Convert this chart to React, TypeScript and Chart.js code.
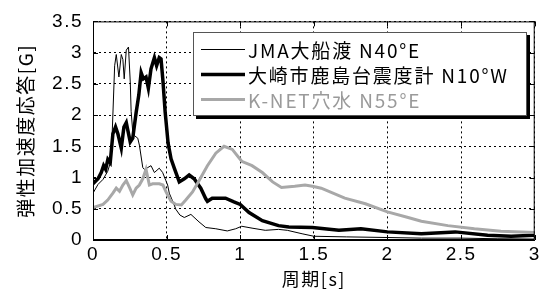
import React, { useEffect, useRef } from "react";
import { Chart, registerables } from "chart.js";

Chart.register(...registerables);

// ---- data ----
const jmaT = [0, 0.034, 0.068, 0.1, 0.124, 0.147, 0.158, 0.176, 0.192, 0.203, 0.212, 0.226, 0.241, 0.253, 0.259, 0.27, 0.282, 0.304, 0.315, 0.338, 0.349, 0.372, 0.394, 0.417, 0.45, 0.473, 0.495, 0.507, 0.518, 0.545, 0.563, 0.59, 0.62, 0.665, 0.72, 0.766, 0.834, 0.912, 0.969, 1.01, 1.08, 1.17, 1.26, 1.32, 1.42, 1.5, 1.72, 2.0, 2.23, 2.5, 2.75, 3.0];
const jmaV = [0.75, 0.89, 0.97, 1.1, 1.29, 2.79, 2.97, 2.61, 2.97, 2.89, 2.58, 3.04, 3.09, 2.53, 2.06, 1.73, 1.67, 1.63, 1.52, 1.16, 1.13, 1.16, 1.19, 1.08, 1.15, 1.08, 0.95, 0.88, 0.75, 0.6, 0.49, 0.4, 0.36, 0.41, 0.29, 0.2, 0.18, 0.145, 0.18, 0.22, 0.19, 0.155, 0.17, 0.155, 0.1, 0.06, 0.05, 0.04, 0.03, 0.03, 0.02, 0.015];

const osakiT = [0, 0.034, 0.056, 0.072, 0.086, 0.101, 0.117, 0.135, 0.153, 0.169, 0.192, 0.21, 0.226, 0.237, 0.253, 0.27, 0.293, 0.311, 0.327, 0.342, 0.36, 0.376, 0.394, 0.417, 0.432, 0.45, 0.462, 0.475, 0.49, 0.51, 0.53, 0.552, 0.586, 0.62, 0.653, 0.687, 0.732, 0.766, 0.777, 0.81, 0.9, 0.957, 1.0, 1.06, 1.15, 1.26, 1.33, 1.49, 1.67, 1.82, 2.0, 2.23, 2.46, 2.68, 2.84, 3.0];
const osakiV = [0.9, 0.98, 1.08, 1.19, 1.13, 1.29, 1.24, 1.7, 1.81, 1.7, 1.47, 1.81, 1.88, 1.75, 1.57, 1.63, 2.04, 2.32, 2.68, 2.58, 2.61, 2.43, 2.74, 2.92, 2.79, 2.92, 2.9, 2.55, 2.05, 1.55, 1.3, 1.15, 0.93, 0.98, 1.04, 0.98, 0.83, 0.66, 0.62, 0.67, 0.67, 0.61, 0.57, 0.44, 0.31, 0.23, 0.21, 0.2, 0.155, 0.18, 0.13, 0.1, 0.13, 0.077, 0.06, 0.077];

const knetT = [0, 0.068, 0.1, 0.135, 0.158, 0.18, 0.203, 0.226, 0.25, 0.27, 0.293, 0.315, 0.338, 0.36, 0.383, 0.405, 0.45, 0.475, 0.496, 0.53, 0.563, 0.6, 0.63, 0.676, 0.72, 0.777, 0.834, 0.89, 0.946, 1.01, 1.08, 1.15, 1.22, 1.28, 1.37, 1.44, 1.49, 1.55, 1.71, 1.85, 2.0, 2.14, 2.23, 2.41, 2.59, 2.77, 3.0];
const knetV = [0.52, 0.57, 0.64, 0.75, 0.83, 0.78, 0.88, 0.95, 0.83, 0.72, 0.83, 0.88, 0.98, 1.13, 0.88, 0.9, 0.9, 0.88, 0.77, 0.62, 0.57, 0.56, 0.64, 0.77, 0.95, 1.19, 1.39, 1.5, 1.45, 1.26, 1.19, 1.08, 0.93, 0.84, 0.86, 0.88, 0.86, 0.83, 0.67, 0.58, 0.45, 0.36, 0.3, 0.23, 0.18, 0.14, 0.12];

const seriesLabels = ["JMA大船渡 N40°E", "大崎市鹿島台震度計 N10°W", "K-NET穴水 N55°E"];
const seriesColors = ["#000000", "#000000", "#a8a8a8"];
const seriesWidths = [1, 3.5, 3];
const legendTextColors = ["#000000", "#000000", "#9a9a9a"];

const xTitle = "周期[s]";
const yTitle = "弾性加速度応答[G]";

const pts = (t: number[], v: number[]) => t.map((x, i) => ({ x, y: v[i] }));

const FONT = "'Liberation Sans', 'Noto Sans CJK JP', sans-serif";
const JFONT = "'Noto Sans CJK JP', 'Liberation Sans', sans-serif";

const framePlugin = {
  id: "frame",
  beforeDraw(chart: any) {
    chart.ctx.letterSpacing = "1.5px";
  },
  afterDraw(chart: any) {
    const ctx = chart.ctx as CanvasRenderingContext2D;
    ctx.save();
    (ctx as any).letterSpacing = "0px";
    const { left, right, top, bottom } = chart.chartArea;
    ctx.setLineDash([]);
    ctx.strokeStyle = "#000";
    ctx.lineWidth = 1;
    ctx.strokeRect(left + 0.5, top + 0.5, right - left - 1, bottom - top - 1);
    // inward ticks
    const tl = 5;
    ctx.beginPath();
    chart.scales.x.ticks.forEach((t: any) => {
      const px = Math.round(chart.scales.x.getPixelForValue(t.value)) + 0.5;
      ctx.moveTo(px, bottom);
      ctx.lineTo(px, bottom - tl);
      ctx.moveTo(px, top);
      ctx.lineTo(px, top + tl);
    });
    chart.scales.y.ticks.forEach((t: any) => {
      const py = Math.round(chart.scales.y.getPixelForValue(t.value)) + 0.5;
      ctx.moveTo(left, py);
      ctx.lineTo(left + tl, py);
      ctx.moveTo(right, py);
      ctx.lineTo(right - tl, py);
    });
    ctx.stroke();

    // legend
    const bx = 193, by = 32, bw = 334, bh = 84;
    ctx.fillStyle = "#000";
    ctx.fillRect(bx + 3, by + 3, bw, bh);
    ctx.fillStyle = "#fff";
    ctx.fillRect(bx, by, bw, bh);
    ctx.strokeStyle = "#555";
    ctx.lineWidth = 1;
    ctx.strokeRect(bx + 0.5, by + 0.5, bw - 1, bh - 1);
    const rows = [49.5, 74.5, 99.5];
    ctx.font = `19px ${JFONT}`;
    (ctx as any).letterSpacing = "1.8px";
    ctx.textBaseline = "middle";
    ctx.textAlign = "left";
    seriesLabels.forEach((lab, i) => {
      ctx.strokeStyle = seriesColors[i];
      ctx.lineWidth = seriesWidths[i];
      ctx.beginPath();
      ctx.moveTo(201, rows[i]);
      ctx.lineTo(245, rows[i]);
      ctx.stroke();
      ctx.fillStyle = legendTextColors[i];
      ctx.fillText(lab, 248, rows[i] + 1);
    });
    (ctx as any).letterSpacing = "0px";
    ctx.restore();
  },
};

export default function App() {
  const ref = useRef<HTMLCanvasElement>(null);
  useEffect(() => {
    if (!ref.current) return;
    const chart = new Chart(ref.current, {
      type: "line",
      data: {
        datasets: [
          { label: seriesLabels[0], data: pts(jmaT, jmaV), borderColor: seriesColors[0], borderWidth: seriesWidths[0] },
          { label: seriesLabels[1], data: pts(osakiT, osakiV), borderColor: seriesColors[1], borderWidth: seriesWidths[1] },
          { label: seriesLabels[2], data: pts(knetT, knetV), borderColor: seriesColors[2], borderWidth: seriesWidths[2] },
        ].reverse().map((d) => ({ ...d, pointRadius: 0, tension: 0, fill: false })),
      },
      options: {
        responsive: false,
        animation: false,
        events: [],
        layout: { padding: { left: 0, top: 14, right: 6, bottom: 0 } },
        plugins: { legend: { display: false }, tooltip: { enabled: false } },
        scales: {
          x: {
            type: "linear",
            min: 0,
            max: 3,
            afterFit: (s: any) => { s.height = 50; },
            ticks: { stepSize: 0.5, color: "#000", font: { family: FONT, size: 19 }, padding: 3, maxRotation: 0, callback: (v: any) => String(v) },
            grid: { color: "#000", lineWidth: 1, drawTicks: false, borderDash: [2, 3] },
            border: { display: true, color: "#000", dash: [2, 3] },
            title: { display: true, text: xTitle, color: "#000", font: { family: JFONT, size: 18, lineHeight: 1.2 }, padding: { top: 0, bottom: 0 } },
          },
          y: {
            min: 0,
            max: 3.5,
            afterFit: (s: any) => { s.width = 93; },
            ticks: { stepSize: 0.5, color: "#000", font: { family: FONT, size: 19 }, padding: 10, callback: (v: any) => String(v) },
            grid: { color: "#000", lineWidth: 1, drawTicks: false, borderDash: [2, 3] },
            border: { display: true, color: "#000", dash: [2, 3] },
            title: { display: true, text: yTitle, color: "#000", font: { family: JFONT, size: 19, lineHeight: 1.2 }, padding: { top: 14, bottom: 0 } },
          },
        },
      },
      plugins: [framePlugin],
    } as any);
    return () => chart.destroy();
  }, []);
  return (
    <div style={{ position: "absolute", left: 0, top: 0, width: 543, height: 290, background: "#fff" }}>
      <canvas ref={ref} width={543} height={290} style={{ width: 543, height: 290, display: "block" }} />
    </div>
  );
}
